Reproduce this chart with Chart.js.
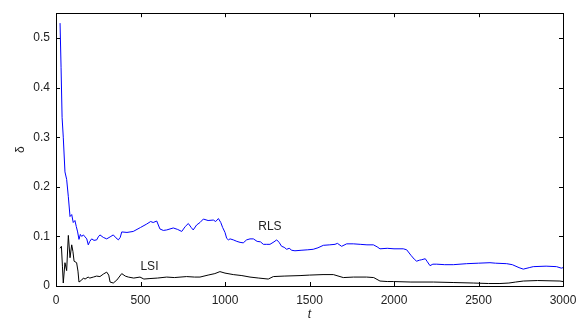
<!DOCTYPE html>
<html>
<head>
<meta charset="utf-8">
<script src="https://cdn.jsdelivr.net/npm/chart.js@4"></script>
<style>
  html, body { margin: 0; padding: 0; background: #fff; }
  #wrap { width: 587px; height: 326px; }
</style>
</head>
<body>
<div id="wrap"><canvas id="chart" width="587" height="326"></canvas></div>
<script>
const xTicks = [0, 500, 1000, 1500, 2000, 2500, 3000];
const yTicks = [0, 0.1, 0.2, 0.3, 0.4, 0.5];

const rlsT = [24, 30, 36, 43, 53, 63, 73, 83, 93, 102, 112, 120, 128, 136, 144, 152, 162, 172, 182, 191,
  200, 211, 225, 241, 250, 260, 280, 300, 320, 339, 355, 369, 380, 389, 420, 457, 500, 537, 560, 575,
  596, 615, 635, 655, 694, 720, 744, 765, 783, 800, 812, 832, 852, 872, 900, 931, 945, 961, 975, 986,
  1000, 1010, 1020, 1030, 1049, 1070, 1089, 1108, 1128, 1148, 1168, 1190, 1210, 1227, 1247, 1266, 1290, 1306, 1320, 1335,
  1350, 1365, 1380, 1395, 1414, 1450, 1490, 1522, 1550, 1582, 1620, 1651, 1665, 1690, 1720, 1759, 1800, 1840, 1878, 1900,
  1917, 1960, 2000, 2055, 2075, 2100, 2120, 2134, 2150, 2164, 2185, 2195, 2213, 2230, 2253, 2300, 2351, 2430, 2500, 2568,
  2600, 2667, 2700, 2740, 2765, 2800, 2824, 2900, 2962, 2990, 3000];
const rlsD = [0.53, 0.44, 0.34, 0.30, 0.23, 0.215, 0.18, 0.14, 0.144, 0.128, 0.132, 0.12, 0.109, 0.094, 0.104, 0.100, 0.103, 0.099, 0.095, 0.083,
  0.090, 0.095, 0.092, 0.093, 0.099, 0.103, 0.098, 0.095, 0.099, 0.103, 0.097, 0.093, 0.098, 0.109, 0.108, 0.110, 0.118, 0.125, 0.130, 0.128,
  0.131, 0.115, 0.112, 0.113, 0.117, 0.114, 0.110, 0.120, 0.126, 0.118, 0.113, 0.123, 0.128, 0.135, 0.132, 0.133, 0.130, 0.136, 0.128, 0.118,
  0.108, 0.096, 0.093, 0.095, 0.093, 0.090, 0.088, 0.087, 0.093, 0.095, 0.095, 0.090, 0.089, 0.084, 0.084, 0.084, 0.089, 0.093, 0.088, 0.080,
  0.078, 0.074, 0.076, 0.072, 0.071, 0.072, 0.073, 0.074, 0.077, 0.082, 0.083, 0.084, 0.086, 0.080, 0.085, 0.085, 0.084, 0.083, 0.083, 0.079,
  0.075, 0.076, 0.075, 0.075, 0.073, 0.062, 0.054, 0.050, 0.052, 0.053, 0.055, 0.050, 0.041, 0.044, 0.044, 0.043, 0.043, 0.045, 0.046, 0.047,
  0.046, 0.045, 0.043, 0.037, 0.034, 0.037, 0.039, 0.040, 0.039, 0.036, 0.037];

const lsiT = [24, 32, 38, 43, 53, 63, 73, 83, 93, 100, 107, 122, 130, 136, 152, 162, 172, 190, 200, 221,
  240, 260, 280, 300, 312, 320, 339, 360, 389, 410, 428, 460, 497, 520, 556, 600, 655, 700, 773, 820,
  852, 900, 940, 970, 1000, 1049, 1100, 1148, 1200, 1256, 1286, 1350, 1444, 1500, 1580, 1641, 1700, 1760, 1838, 1880,
  1917, 1960, 1996, 2100, 2233, 2350, 2469, 2560, 2627, 2680, 2720, 2765, 2850, 2982, 3000];
const lsiD = [0.076, 0.08, 0.04, 0.006, 0.047, 0.031, 0.102, 0.057, 0.083, 0.070, 0.05, 0.047, 0.03, 0.008, 0.012, 0.016, 0.014, 0.018, 0.016, 0.018,
  0.020, 0.019, 0.024, 0.028, 0.022, 0.008, 0.006, 0.012, 0.025, 0.020, 0.018, 0.016, 0.018, 0.014, 0.015, 0.016, 0.018, 0.017, 0.019, 0.018,
  0.018, 0.022, 0.025, 0.029, 0.026, 0.023, 0.021, 0.018, 0.016, 0.014, 0.019, 0.020, 0.021, 0.022, 0.023, 0.023, 0.017, 0.018, 0.018, 0.017,
  0.010, 0.009, 0.009, 0.008, 0.008, 0.007, 0.006, 0.005, 0.005, 0.006, 0.008, 0.010, 0.011, 0.010, 0.009];

// in-plot labels: [text, t, delta]
const seriesLabels = [["RLS", 1266, 0.12], ["LSI", 553, 0.039]];

const FONT = "'Liberation Sans', Arial, sans-serif";
const toPts = (ts, ds) => ts.map((t, i) => ({ x: t, y: ds[i] }));

// matlab-style box, inward ticks, axis names and series labels
const axesDecor = {
  id: "axesDecor",
  afterDraw(chart) {
    const { ctx, chartArea: a, scales: { x, y } } = chart;
    ctx.save();
    ctx.strokeStyle = "#000";
    ctx.lineWidth = 1;
    ctx.strokeRect(Math.round(a.left) + 0.5, Math.round(a.top) + 0.5, Math.round(a.right - a.left), Math.round(a.bottom - a.top));
    const tl = 4;
    ctx.beginPath();
    xTicks.forEach((v) => {
      const px = Math.round(x.getPixelForValue(v)) + 0.5;
      ctx.moveTo(px, a.bottom); ctx.lineTo(px, a.bottom - tl);
      ctx.moveTo(px, a.top); ctx.lineTo(px, a.top + tl);
    });
    yTicks.forEach((v) => {
      const py = Math.round(y.getPixelForValue(v)) + 0.5;
      ctx.moveTo(a.left, py); ctx.lineTo(a.left + tl, py);
      ctx.moveTo(a.right, py); ctx.lineTo(a.right - tl, py);
    });
    ctx.stroke();

    ctx.fillStyle = "#222";
    ctx.font = "12px " + FONT;
    ctx.textAlign = "center";
    ctx.textBaseline = "middle";
    seriesLabels.forEach(([txt, t, d]) => {
      ctx.fillText(txt, x.getPixelForValue(t), y.getPixelForValue(d));
    });

    ctx.font = "italic 12px " + FONT;
    ctx.fillText("t", (a.left + a.right) / 2, 315);
    ctx.translate(21, (a.top + a.bottom) / 2);
    ctx.rotate(-Math.PI / 2);
    ctx.font = "12px " + FONT;
    ctx.fillText("δ", 0, 0);
    ctx.restore();
  },
};

new Chart(document.getElementById("chart"), {
  type: "line",
  data: {
    datasets: [
      { label: "RLS", data: toPts(rlsT, rlsD), borderColor: "#0000ff", borderWidth: 1, pointRadius: 0, tension: 0 },
      { label: "LSI", data: toPts(lsiT, lsiD), borderColor: "#000000", borderWidth: 1, pointRadius: 0, tension: 0 },
    ],
  },
  options: {
    responsive: false,
    animation: false,
    events: [],
    layout: { padding: { left: 0, right: 24, top: 3, bottom: 0 } },
    plugins: { legend: { display: false }, tooltip: { enabled: false } },
    scales: {
      x: {
        type: "linear",
        min: 0,
        max: 3000,
        grid: { display: false, drawTicks: false },
        border: { display: false },
        afterBuildTicks: (s) => { s.ticks = xTicks.map((v) => ({ value: v })); },
        afterFit: (s) => { s.height = 40; },
        ticks: { color: "#222", font: { family: FONT, size: 12 }, padding: 7, maxRotation: 0, callback: (v) => String(v) },
      },
      y: {
        min: 0,
        max: 0.55,
        grid: { display: false, drawTicks: false },
        border: { display: false },
        afterBuildTicks: (s) => { s.ticks = yTicks.map((v) => ({ value: v })); },
        afterFit: (s) => { s.width = 56; },
        ticks: { color: "#222", font: { family: FONT, size: 12 }, padding: 6, callback: (v) => String(+v.toFixed(1)) },
      },
    },
  },
  plugins: [axesDecor],
});
</script>
</body>
</html>
